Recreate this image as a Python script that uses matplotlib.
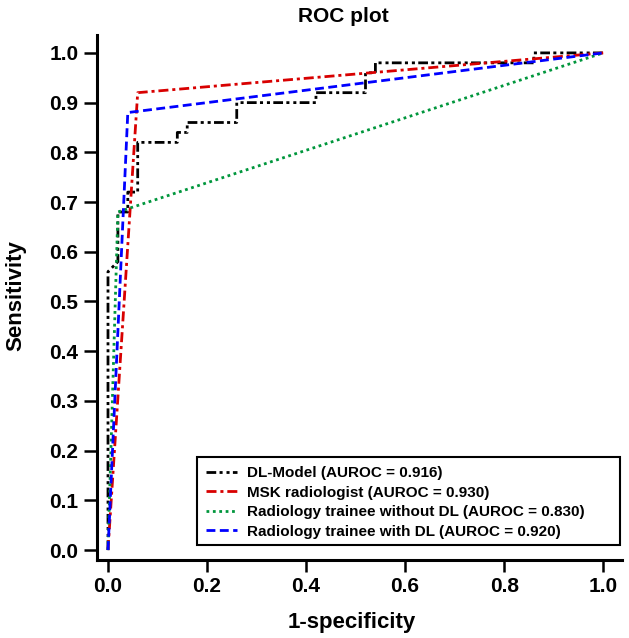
import matplotlib
matplotlib.use("Agg")
import matplotlib.pyplot as plt
from matplotlib.patches import Rectangle

plt.rcParams['font.family'] = ['Liberation Sans', 'DejaVu Sans']
plt.rcParams['font.weight'] = 'bold'

# DL model ROC (step curve)
dl_fpr = [0.0, 0.0, 0.02, 0.02, 0.04, 0.04, 0.06, 0.06, 0.14, 0.14, 0.16, 0.16,
          0.26, 0.26, 0.42, 0.42, 0.52, 0.52, 0.54, 0.54, 0.86, 0.86, 1.0]
dl_tpr = [0.0, 0.56, 0.58, 0.68, 0.68, 0.72, 0.72, 0.82, 0.82, 0.84, 0.84, 0.86,
          0.86, 0.90, 0.90, 0.92, 0.92, 0.96, 0.96, 0.98, 0.98, 1.0, 1.0]
# single operating point readers
msk_fpr = [0.0, 0.06, 1.0]
msk_tpr = [0.0, 0.92, 1.0]
tr_wo_fpr = [0.0, 0.02, 1.0]
tr_wo_tpr = [0.0, 0.68, 1.0]
tr_w_fpr = [0.0, 0.04, 1.0]
tr_w_tpr = [0.0, 0.88, 1.0]

labels = ["DL-Model (AUROC = 0.916)",
          "MSK radiologist (AUROC = 0.930)",
          "Radiology trainee without DL (AUROC = 0.830)",
          "Radiology trainee with DL (AUROC = 0.920)"]
yticks = [0.0, 0.1, 0.2, 0.3, 0.4, 0.5, 0.6, 0.7, 0.8, 0.9, 1.0]
xticks = [0.0, 0.2, 0.4, 0.6, 0.8, 1.0]

W, H = 629, 638
fig = plt.figure(figsize=(W / 100, H / 100), dpi=100)
ax = fig.add_axes([97 / W, (H - 560) / H, (622 - 97) / W, (560 - 35) / H])

lw = 2.0
ax.plot(dl_fpr, dl_tpr, color='black', lw=lw,
        linestyle=(0, (3.5, 1.2, 1.1, 1.4, 1.1, 1.2)), label=labels[0])
ax.plot(msk_fpr, msk_tpr, color='#d80000', lw=lw,
        linestyle=(0, (3.6, 1.4, 1.1, 1.4)), label=labels[1])
ax.plot(tr_wo_fpr, tr_wo_tpr, color='#00963c', lw=lw,
        linestyle=(0, (1.0, 1.3)), label=labels[2])
ax.plot(tr_w_fpr, tr_w_tpr, color='#0000ff', lw=lw,
        linestyle=(0, (3.2, 1.6)), label=labels[3])

ax.set_xlim(-0.0222, 1.038)
ax.set_ylim(-0.020, 1.036)
ax.set_xticks(xticks)
ax.set_yticks(yticks)
ax.set_xticklabels([f"{t:.1f}" for t in xticks])
ax.set_yticklabels([f"{t:.1f}" for t in yticks])
ax.tick_params(axis='y', direction='out', length=9.4, width=1.8, labelsize=15, pad=4)
ax.tick_params(axis='x', direction='out', length=8.6, width=1.8, labelsize=15, pad=4)
for s in ['top', 'right']:
    ax.spines[s].set_visible(False)
for s in ['left', 'bottom']:
    ax.spines[s].set_linewidth(2.2)

fig.text(352 / W, 1 - 628 / H, "1-specificity", fontsize=16, fontweight='bold',
         ha='center', va='baseline')
fig.text(16 / W, 1 - 296 / H, "Sensitivity", fontsize=16, fontweight='bold',
         ha='center', va='center', rotation=90)
fig.text(343 / W, 1 - 22 / H, "ROC plot", fontsize=15, fontweight='bold',
         ha='center', va='baseline')

# legend frame (wider than its content, as in the reference)
frame = Rectangle((197 / W, 1 - 545 / H), (620 - 197) / W, (545 - 457) / H,
                  transform=fig.transFigure, facecolor='white', edgecolor='black',
                  linewidth=1.5, zorder=4, clip_on=False)
ax.add_patch(frame)

leg = ax.legend(loc='upper left', bbox_to_anchor=(197 / W, 1 - 457 / H),
                bbox_transform=fig.transFigure,
                borderaxespad=0, fontsize=11, frameon=False,
                handlelength=2.0, handletextpad=0.7, labelspacing=0.36,
                borderpad=0.6)
leg.set_zorder(5)
for t in leg.get_texts():
    t.set_fontweight('bold')

fig.savefig("out.png", dpi=100)
